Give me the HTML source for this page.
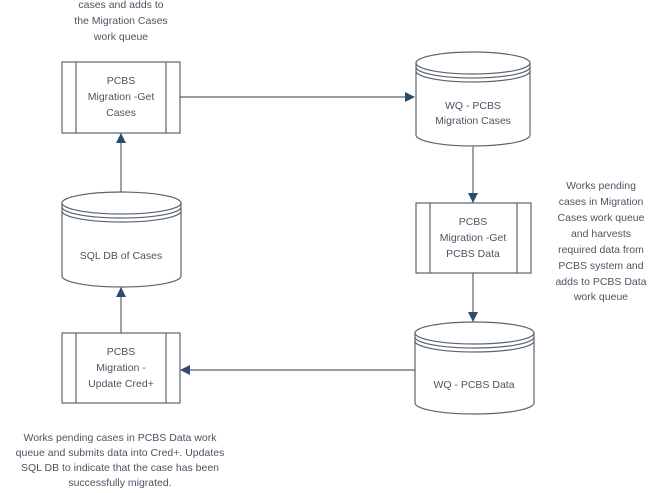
<!DOCTYPE html>
<html><head><style>
html,body{margin:0;padding:0;background:#fff;}
svg{display:block;}
text{font-family:"Liberation Sans",sans-serif;font-size:10.5px;fill:#4a5563;text-anchor:middle;}
</style></head><body>
<svg width="656" height="493" viewBox="0 0 656 493" xmlns="http://www.w3.org/2000/svg">
<defs>
<marker id="a" markerWidth="10" markerHeight="10" refX="9" refY="5" orient="auto" markerUnits="userSpaceOnUse">
<path d="M0,0 L10,5 L0,10 z" fill="#2f4b6b"/>
</marker>
</defs>
<g stroke="#5a6470" stroke-width="1.2" fill="none">
<!-- box1 -->
<rect x="62" y="62" width="118" height="71" fill="#fff"/>
<line x1="76" y1="62" x2="76" y2="133"/><line x1="166" y1="62" x2="166" y2="133"/>
<!-- box2 -->
<rect x="416" y="203" width="115" height="70" fill="#fff"/>
<line x1="430" y1="203" x2="430" y2="273"/><line x1="517" y1="203" x2="517" y2="273"/>
<!-- box3 -->
<rect x="62" y="333" width="118" height="70" fill="#fff"/>
<line x1="76" y1="333" x2="76" y2="403"/><line x1="166" y1="333" x2="166" y2="403"/>
<!-- cylinders -->
<g id="c1">
<path d="M416,63 L416,135 A57,11 0 0 0 530,135 L530,63"/>
<ellipse cx="473" cy="63" rx="57" ry="11"/>
<path d="M416,67 A57,11 0 0 0 530,67"/>
<path d="M416,71 A57,11 0 0 0 530,71"/>
</g>
<path d="M62,203 L62,276 A59.5,11 0 0 0 181,276 L181,203"/>
<ellipse cx="121.5" cy="203" rx="59.5" ry="11"/>
<path d="M62,207 A59.5,11 0 0 0 181,207"/>
<path d="M62,211 A59.5,11 0 0 0 181,211"/>
<path d="M415,333 L415,403 A59.5,11 0 0 0 534,403 L534,333"/>
<ellipse cx="474.5" cy="333" rx="59.5" ry="11"/>
<path d="M415,337 A59.5,11 0 0 0 534,337"/>
<path d="M415,341 A59.5,11 0 0 0 534,341"/>
<!-- connectors -->
<line x1="180" y1="97" x2="414" y2="97" marker-end="url(#a)"/>
<line x1="473" y1="147" x2="473" y2="202" marker-end="url(#a)"/>
<line x1="473" y1="273" x2="473" y2="321" marker-end="url(#a)"/>
<line x1="415" y1="370" x2="181" y2="370" marker-end="url(#a)"/>
<line x1="121" y1="333" x2="121" y2="288" marker-end="url(#a)"/>
<line x1="121" y1="192" x2="121" y2="134" marker-end="url(#a)"/>
</g>
<text x="121" y="8">cases and adds to</text>
<text x="121" y="24">the Migration Cases</text>
<text x="121" y="40">work queue</text>
<text x="121" y="84">PCBS</text>
<text x="121" y="100">Migration -Get</text>
<text x="121" y="116">Cases</text>
<text x="473" y="109">WQ - PCBS</text>
<text x="473" y="124">Migration Cases</text>
<text x="473" y="225">PCBS</text>
<text x="473" y="241">Migration -Get</text>
<text x="473" y="257">PCBS Data</text>
<text x="121" y="259">SQL DB of Cases</text>
<text x="121" y="355">PCBS</text>
<text x="121" y="371">Migration -</text>
<text x="121" y="387">Update Cred+</text>
<text x="474" y="388">WQ - PCBS Data</text>
<text x="601" y="189">Works pending</text>
<text x="601" y="205">cases in Migration</text>
<text x="601" y="221">Cases work queue</text>
<text x="601" y="237">and harvests</text>
<text x="601" y="253">required data from</text>
<text x="601" y="269">PCBS system and</text>
<text x="601" y="285">adds to PCBS Data</text>
<text x="601" y="300">work queue</text>
<text x="120" y="441">Works pending cases in PCBS Data work</text>
<text x="120" y="456">queue and submits data into Cred+. Updates</text>
<text x="120" y="471">SQL DB to indicate that the case has been</text>
<text x="120" y="486">successfully migrated.</text>
</svg>
</body></html>
